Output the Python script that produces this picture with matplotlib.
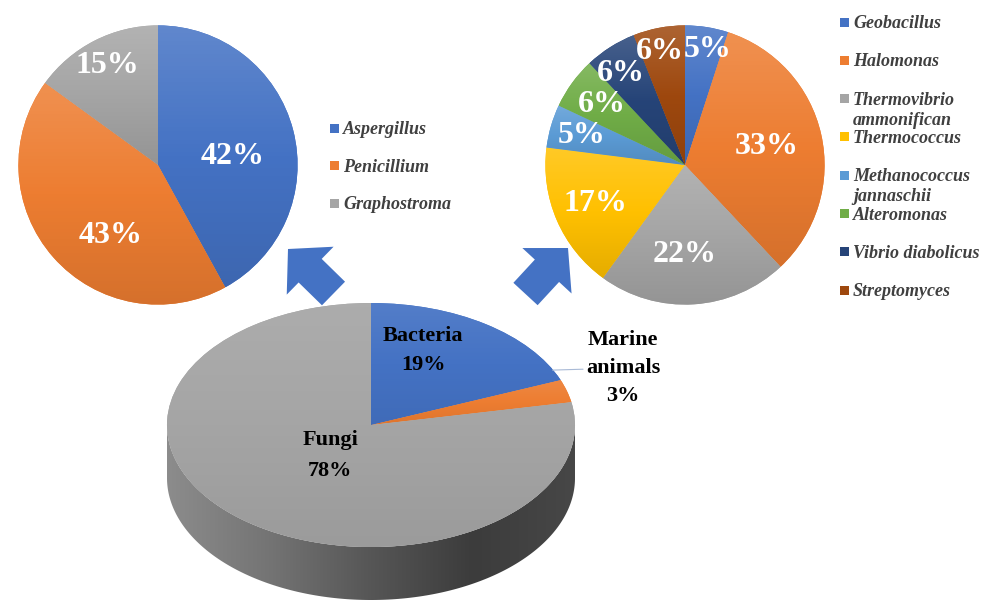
import numpy as np
import matplotlib.pyplot as plt
from matplotlib.colors import LinearSegmentedColormap, to_rgb
from matplotlib.patches import FancyArrow, Polygon, Rectangle

plt.rcParams['font.family'] = ['Liberation Serif', 'DejaVu Serif']

# ---- data ----
source_groups = ['Bacteria', 'Marine\nanimals', 'Fungi']
source_pct = [19, 3, 78]

fungi_genera = ['Aspergillus', 'Penicillium', 'Graphostroma']
fungi_pct = [42, 43, 15]

bacteria_genera = ['Geobacillus', 'Halomonas', 'Thermovibrio\nammonifican', 'Thermococcus',
                   'Methanococcus\njannaschii', 'Alteromonas', 'Vibrio diabolicus', 'Streptomyces']
bacteria_pct = [5, 33, 22, 17, 5, 6, 6, 6]

# ---- styles ----
source_colors = ['#4472C4', '#ED7D31', '#A5A5A5']
fungi_colors = ['#4472C4', '#ED7D31', '#A5A5A5']
bacteria_colors = ['#4472C4', '#ED7D31', '#A5A5A5', '#FFC000',
                   '#5B9BD5', '#70AD47', '#264478', '#9E480E']
# label distance (fraction of radius) and angular nudge (deg, clockwise)
fungi_lbl_r = [0.54, 0.61, 0.8]
fungi_lbl_da = [8, -15, 0]
bacteria_lbl_r = [0.84, 0.6, 0.64, 0.7, 0.77, 0.74, 0.8, 0.83]
bacteria_lbl_da = [2, 0, 4, 0, 0, 0, -2.5, -1.5]

W, H = 992, 601
fig = plt.figure(figsize=(W / 100, H / 100), dpi=100)


def px_axes(x0, y0, w, h):
    return fig.add_axes([x0 / W, 1 - (y0 + h) / H, w / W, h / H])


def shade(ax, wedges, colors, light=0.15, dark=0.1):
    # vertical gradient inside every wedge, light on top
    for w, c in zip(wedges, colors):
        rgb = np.array(to_rgb(c))
        cmap = LinearSegmentedColormap.from_list('g', [rgb * (1 - dark), rgb, rgb + (1 - rgb) * light])
        ext = w.get_path().get_extents()
        im = ax.imshow(np.linspace(0, 1, 64).reshape(-1, 1), cmap=cmap, origin='lower',
                       extent=(ext.x0, ext.x1, ext.y0, ext.y1), aspect='auto', zorder=2)
        im.set_clip_path(w)


def small_pie(ax, vals, colors, dists, nudges):
    wedges, _ = ax.pie(vals, colors=colors, startangle=90, counterclock=False,
                       wedgeprops=dict(linewidth=0))
    shade(ax, wedges, colors)
    for w, v, d, da in zip(wedges, vals, dists, nudges):
        a = np.deg2rad((w.theta1 + w.theta2) / 2 - da)
        ax.text(d * np.cos(a), d * np.sin(a), f'{v}%', ha='center', va='center',
                color='white', fontsize=23, fontweight='bold', zorder=5)
    ax.set_xlim(-1.01, 1.01)
    ax.set_ylim(-1.01, 1.01)
    ax.set_aspect('auto')
    ax.axis('off')


ax_f = px_axes(17, 24, 282, 282)
small_pie(ax_f, fungi_pct, fungi_colors, fungi_lbl_r, fungi_lbl_da)

ax_b = px_axes(544, 24, 282, 282)
small_pie(ax_b, bacteria_pct, bacteria_colors, bacteria_lbl_r, bacteria_lbl_da)

# ---- bottom "3D" pie ----
depth = 53 / 122
ax3 = px_axes(167, 303, 408, 122 * 2 + 53)
t = np.linspace(np.pi, 2 * np.pi, 200)
side_xy = np.vstack([np.column_stack([np.cos(t), np.sin(t)]),
                     np.column_stack([np.cos(t[::-1]), np.sin(t[::-1]) - depth])])
side = Polygon(side_xy, closed=True, facecolor='none', edgecolor='none')
ax3.add_patch(side)
side_cmap = LinearSegmentedColormap.from_list('side', ['#8c8c8c', '#747474', '#565656', '#3c3c3c', '#474747'])
im = ax3.imshow(np.linspace(0, 1, 256).reshape(1, -1), cmap=side_cmap,
                extent=(-1, 1, -1 - depth, 0), aspect='auto', zorder=1)
im.set_clip_path(side)

wedges, _ = ax3.pie(source_pct, colors=source_colors, startangle=90, counterclock=False,
                    wedgeprops=dict(linewidth=0))
shade(ax3, wedges, source_colors, light=0.08, dark=0.06)
ax3.set_xlim(-1, 1)
ax3.set_ylim(-1 - depth, 1)
ax3.set_aspect('auto')
ax3.axis('off')

lbl_font = dict(fontsize=16, fontweight='bold', color='black', ha='center', va='center', zorder=6)
ax3.text(0.255, 0.607, f'{source_groups[0]}\n{source_pct[0]}%', linespacing=1.6, **lbl_font)
ax3.text(-0.2, -0.25, f'{source_groups[2]}\n{source_pct[2]}%', linespacing=1.8, **lbl_font)
ax3.annotate(f'{source_groups[1]}\n{source_pct[1]}%', xy=(0.89, 0.45), xytext=(1.235, 0.467),
             arrowprops=dict(arrowstyle='-', color='#a9bad6', lw=0.8, shrinkA=0, shrinkB=0),
             annotation_clip=False, linespacing=1.55, **lbl_font)

# ---- overlay: arrows and legends in pixel units ----
ov = fig.add_axes([0, 0, 1, 1])
ov.set_xlim(0, W)
ov.set_ylim(H, 0)
ov.axis('off')
ov.patch.set_alpha(0)

arrow_kw = dict(width=33, head_width=67, head_length=31, length_includes_head=True,
                color='#4472C4', linewidth=0)
ov.add_patch(FancyArrow(333.5, 293.5, -45.5, -44.5, **arrow_kw))
ov.add_patch(FancyArrow(525.5, 294, 42.5, -46, **arrow_kw))


def legend(x, y0, step, names, colors):
    for i, (n, c) in enumerate(zip(names, colors)):
        y = y0 + i * step
        ov.add_patch(Rectangle((x, y - 4.5), 9, 9, color=c, linewidth=0))
        for j, line in enumerate(n.split('\n')):
            ov.text(x + 13, y + 6 + j * 20, line, fontsize=13, fontweight='bold',
                    fontstyle='italic', color='#404040', ha='left', va='baseline')


legend(330, 128, 37.5, fungi_genera, fungi_colors)
legend(840, 22, 38.3, bacteria_genera, bacteria_colors)

fig.savefig('out.png', dpi=100, facecolor='white')
